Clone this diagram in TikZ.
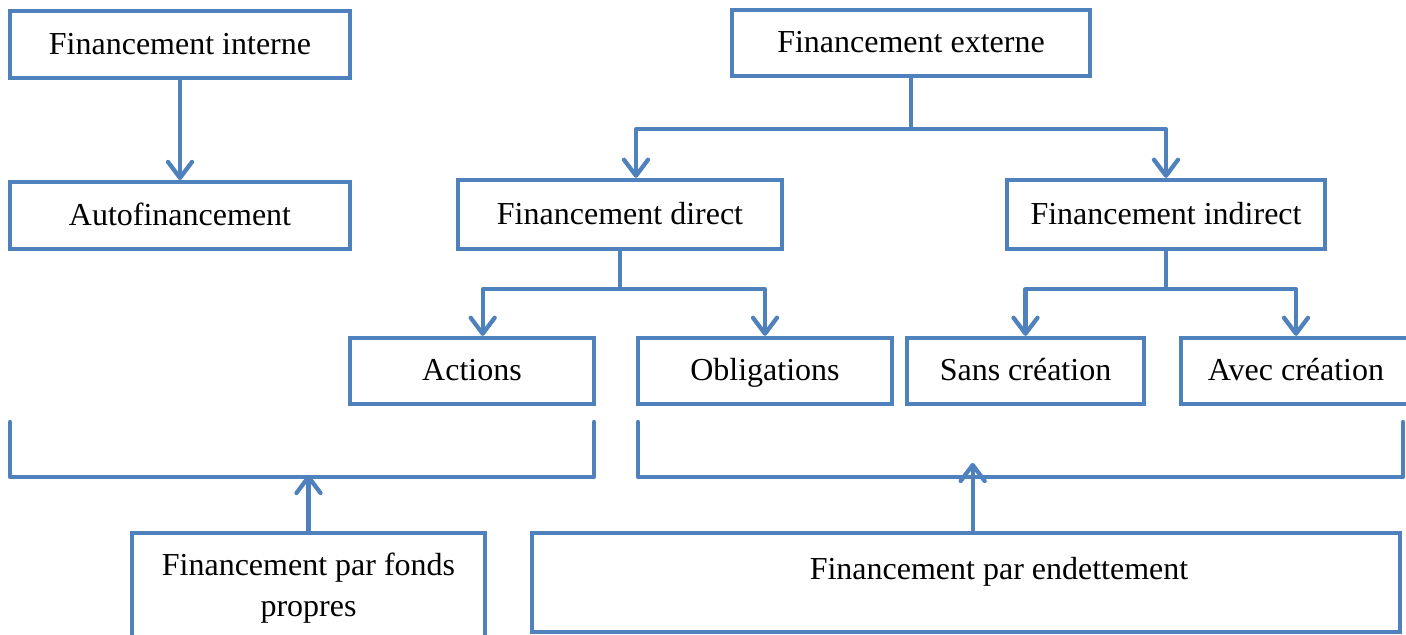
\documentclass[tikz,border=0pt]{standalone}
\usepackage{fontspec}
\setmainfont{Liberation Serif}
\usepackage{xcolor}
\usetikzlibrary{arrows.meta,positioning,calc}
\definecolor{wordblue}{HTML}{4F81BD}
\tikzset{
    box/.style={draw=wordblue, line width=3.2pt, fill=white, inner sep=0pt, font=\fontsize{24}{31}\selectfont},
    onebox/.style={box, text height=17.5pt, text depth=3pt},
    link/.style={draw=wordblue, line width=3.2pt, line cap=round, line join=round},
    arr/.style={link, -{Straight Barb[length=12pt,width=18pt,round]}}
}

\begin{document}
\begin{tikzpicture}[x=0.75pt,y=-0.75pt]
    \useasboundingbox (0,0) rectangle (1406,635);

    % Financement interne
    \node[onebox, minimum width=255pt, minimum height=50pt] (interne) at (180,44.5) {Financement interne};
    \node[onebox, minimum width=255pt, minimum height=50pt] (auto) at (180,215.5) {Autofinancement};
    \draw[arr] (interne.south) -- (auto.north);

    % Financement externe
    \node[onebox, minimum width=268.5pt, minimum height=49.5pt] (externe) at (911,43) {Financement externe};
    \node[onebox, minimum width=243pt, minimum height=51.75pt] (direct) at (620,214.5) {Financement direct};
    \node[onebox, minimum width=238.5pt, minimum height=51.75pt] (indirect) at (1166,214.5) {Financement indirect};
    \draw[arr] (externe.south) -- ++(0,51) -| ([xshift=12pt]direct.north);
    \draw[arr] (externe.south) -- ++(0,51) -| (indirect.north);

    % Direct
    \node[onebox, minimum width=183pt, minimum height=49.5pt] (actions) at (472,371) {Actions};
    \node[onebox, minimum width=190.5pt, minimum height=49.5pt] (oblig) at (765,371) {Obligations};
    \draw[arr] (direct.south) -- ++(0,38) -| ([xshift=8pt]actions.north);
    \draw[arr] (direct.south) -- ++(0,38) -| (oblig.north);

    % Indirect
    \node[onebox, minimum width=177.75pt, minimum height=49.5pt] (sans) at (1025.5,371) {Sans création};
    \node[onebox, minimum width=172.5pt, minimum height=49.5pt] (avec) at (1296,371) {Avec création};
    \draw[arr] (indirect.south) -- ++(0,38) -| (sans.north);
    \draw[arr] (indirect.south) -- ++(0,38) -| (avec.north);

    % Brackets
    \coordinate (fp left) at (10,422);
    \coordinate (fp right) at (594,422);
    \coordinate (dette left) at (638,422);
    \coordinate (dette right) at (1403,422);
    \draw[link] (fp left) -- ++(0,55) -| (fp right);
    \draw[link] (dette left) -- ++(0,55) -| (dette right);

    % Fonds propres / endettement
    \node[box, minimum width=264.75pt, minimum height=82.5pt, align=center] (propres) at (308.5,588) {Financement par fonds\\propres};
    \node[box, minimum width=651pt, minimum height=74.25pt,
        label={[name=endet text, font=\fontsize{24}{31}\selectfont, xshift=24.75pt, yshift=7.9pt]center:Financement par endettement}] (endet) at (966,582.5) {};
    \draw[arr] (propres.north) -- ++(0,-56);
    \draw[arr] ([xshift=5pt]endet.north) -- ++(0,-68);
\end{tikzpicture}
\end{document}
